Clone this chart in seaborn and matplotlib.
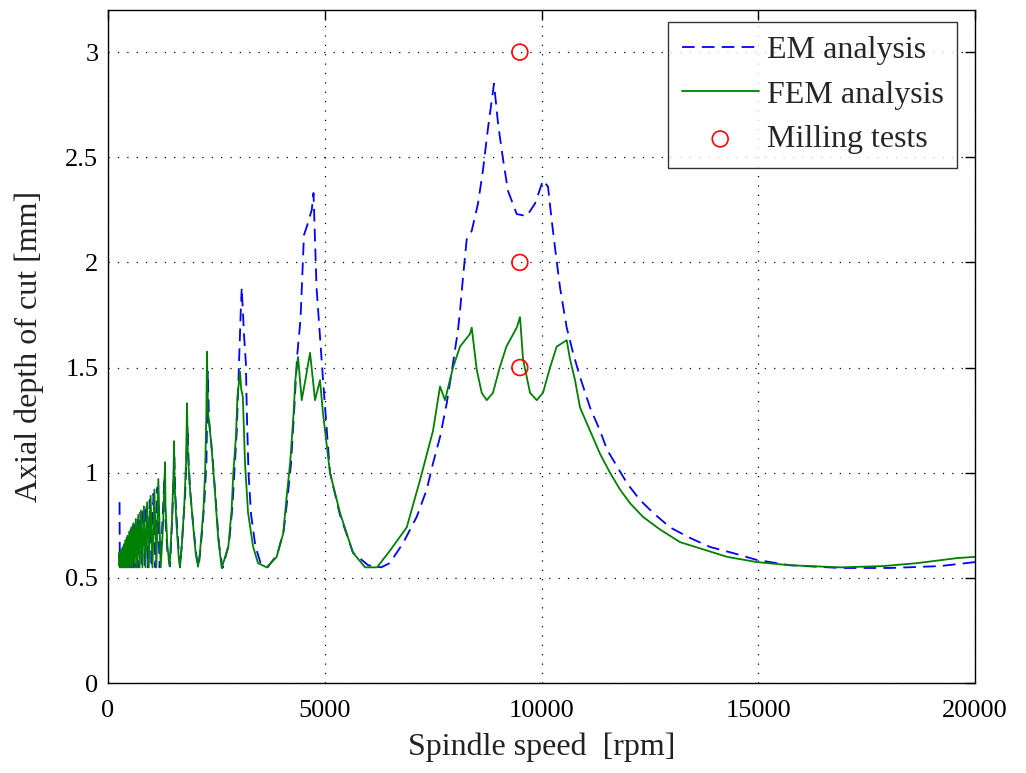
import numpy as np
import pandas as pd
import matplotlib
matplotlib.use("Agg")
import matplotlib.pyplot as plt
import seaborn as sns

# ---------------- data ----------------
fem_rpm = [250, 262, 280, 296, 312, 330, 348, 366, 385, 404, 424, 444, 466, 488, 512, 536,
           560, 585, 612, 640, 668, 698, 728, 760, 793, 828, 864, 902, 940, 982, 1025, 1070,
           1115, 1160, 1215, 1270, 1315, 1325, 1370, 1420, 1470, 1510, 1523, 1535, 1580, 1630,
           1660, 1700, 1760, 1800, 1822, 1840, 1880, 1950, 2020, 2076, 2120, 2200, 2240, 2265,
           2284, 2300, 2380, 2460, 2540, 2622, 2776, 2850, 2890, 2950, 2985, 3045, 3070, 3110,
           3160, 3230, 3345, 3460, 3660, 3890, 4040, 4120, 4200, 4280, 4320, 4383, 4468, 4560,
           4660, 4775, 4890, 4960, 5120, 5350, 5650, 5930, 6205, 6505, 6890, 7197, 7497, 7659,
           7774, 7958, 8120, 8350, 8390, 8505, 8620, 8736, 8880, 9035, 9190, 9428, 9504, 9573,
           9735, 9890, 10034, 10196, 10350, 10581, 10657, 10773, 10888, 11119, 11349, 11580,
           11811, 12041, 12341, 12734, 13195, 13656, 14279, 14971, 15732, 16886, 17878, 18662,
           19585, 20000]
fem_mm = [0.56, 0.62, 0.55, 0.63, 0.55, 0.64, 0.55, 0.66, 0.55, 0.68, 0.55, 0.70, 0.55, 0.72, 0.55, 0.74,
          0.55, 0.76, 0.55, 0.78, 0.55, 0.80, 0.55, 0.82, 0.55, 0.84, 0.55, 0.86, 0.55, 0.89, 0.55, 0.92,
          0.55, 0.97, 0.55, 0.75, 1.05, 0.85, 0.65, 0.555, 0.75, 1.00, 1.15, 0.95, 0.75, 0.60,
          0.55, 0.65, 0.85, 1.05, 1.33, 1.10, 0.95, 0.78, 0.62, 0.553, 0.62, 0.82, 1.01, 1.25,
          1.575, 1.30, 1.14, 0.93, 0.69, 0.547, 0.65, 0.82, 1.00, 1.17, 1.36, 1.48, 1.40, 1.36,
          1.045, 0.81, 0.65, 0.57, 0.55, 0.60, 0.71, 0.885, 1.045, 1.28, 1.44, 1.55, 1.345, 1.45,
          1.57, 1.345, 1.44, 1.28, 1.00, 0.81, 0.62, 0.55, 0.55, 0.63, 0.74, 0.965, 1.20, 1.41,
          1.345, 1.50, 1.60, 1.66, 1.69, 1.49, 1.38, 1.345, 1.38, 1.50, 1.60, 1.69, 1.74, 1.54,
          1.38, 1.345, 1.38, 1.50, 1.60, 1.63, 1.54, 1.44, 1.31, 1.20, 1.09, 1.00,
          0.92, 0.855, 0.79, 0.73, 0.67, 0.64, 0.60, 0.575, 0.56, 0.55, 0.556, 0.57,
          0.594, 0.60]

em_rpm = [265, 272, 290, 306, 322, 340, 358, 376, 395, 415, 435, 456, 478, 500, 524, 548,
          573, 598, 626, 654, 684, 714, 745, 777, 810, 846, 884, 922, 962, 1004, 1048, 1093,
          1140, 1190, 1245, 1300, 1320, 1370, 1430, 1480, 1530, 1550, 1600, 1660, 1710, 1780,
          1835, 1860, 1900, 1970, 2040, 2090, 2140, 2220, 2270, 2300, 2330, 2400, 2480, 2560,
          2640, 2790, 2870, 2920, 2970, 3010, 3060, 3084, 3140, 3180, 3200, 3240, 3300, 3400,
          3520, 3680, 3900, 4050, 4140, 4220, 4290, 4360, 4440, 4520, 4600, 4700, 4740, 4810,
          4890, 4960, 5120, 5350, 5650, 6000, 6300, 6500, 6805, 7120, 7352, 7497, 7659, 7813,
          7958, 8074, 8120, 8189, 8274, 8390, 8535, 8650, 8766, 8851, 8904, 8997, 9112, 9227,
          9428, 9658, 9850, 10034, 10150, 10235, 10311, 10427, 10581, 10727, 10888, 11119,
          11349, 11511, 11742, 11972, 12272, 12572, 12964, 13425, 13887, 14418, 14971, 15732,
          16886, 18039, 19193, 20000]
em_mm = [0.86, 0.55, 0.62, 0.55, 0.63, 0.55, 0.65, 0.55, 0.67, 0.55, 0.69, 0.55, 0.71, 0.55, 0.73, 0.55,
         0.75, 0.55, 0.77, 0.55, 0.79, 0.55, 0.81, 0.55, 0.83, 0.55, 0.85, 0.55, 0.87, 0.55, 0.90, 0.55,
         0.93, 0.55, 0.72, 0.98, 0.80, 0.62, 0.555, 0.78, 1.08, 0.90, 0.72, 0.55, 0.68, 0.90,
         1.22, 1.05, 0.90, 0.74, 0.60, 0.553, 0.65, 0.85, 1.05, 1.48, 1.25, 1.10, 0.88, 0.66,
         0.547, 0.66, 0.84, 1.02, 1.20, 1.45, 1.76, 1.88, 1.645, 1.52, 1.30, 1.00, 0.80, 0.65,
         0.57, 0.55, 0.61, 0.72, 0.88, 1.04, 1.28, 1.55, 1.73, 2.13, 2.18, 2.25, 2.33, 1.88,
         1.645, 1.44, 1.00, 0.80, 0.62, 0.56, 0.55, 0.57, 0.665, 0.79, 0.92, 1.045, 1.17, 1.33,
         1.52, 1.68, 1.77, 1.93, 2.11, 2.15, 2.28, 2.44, 2.64, 2.77, 2.85, 2.66, 2.49, 2.34,
         2.23, 2.22, 2.28, 2.39, 2.36, 2.20, 2.07, 1.88, 1.69, 1.57, 1.455, 1.31,
         1.20, 1.11, 1.03, 0.95, 0.87, 0.81, 0.74, 0.69, 0.647, 0.618, 0.585, 0.56,
         0.547, 0.547, 0.556, 0.575]

test_rpm = [9500, 9500, 9500]
test_mm = [1.5, 2.0, 3.0]

x_ticks = [0, 5000, 10000, 15000, 20000]
y_ticks = [0, 0.5, 1, 1.5, 2, 2.5, 3]
y_tick_labels = ["0", "0.5", "1", "1.5", "2", "2.5", "3"]

# ---------------- plotting ----------------
sns.set_theme(style="white")
plt.rcParams["font.family"] = ["Liberation Serif", "DejaVu Serif"]
plt.rcParams["font.size"] = 16

fig = plt.figure(figsize=(10.26, 7.73), dpi=100)
ax = fig.add_axes([0.1053, 0.1164, 0.8450, 0.8706])

em_df = pd.DataFrame({"rpm": em_rpm, "mm": em_mm})
fem_df = pd.DataFrame({"rpm": fem_rpm, "mm": fem_mm})
tests_df = pd.DataFrame({"rpm": test_rpm, "mm": test_mm})

sns.lineplot(data=em_df, x="rpm", y="mm", ax=ax, color=(0, 0, 1), linewidth=1.3,
             linestyle=(0, (7, 4)), estimator=None, sort=False, label="EM analysis")
sns.lineplot(data=fem_df, x="rpm", y="mm", ax=ax, color=(0, 0.5, 0), linewidth=1.3,
             estimator=None, sort=False, label="FEM analysis")
sns.scatterplot(data=tests_df, x="rpm", y="mm", ax=ax, marker="o", s=130,
                facecolor="none", edgecolor=(1, 0, 0), linewidth=1.2, label="Milling tests",
                zorder=5)

ax.set_xlim(0, 20000)
ax.set_ylim(0, 3.2)
ax.set_xticks(x_ticks)
ax.set_xticklabels([str(t) for t in x_ticks])
ax.set_yticks(y_ticks)
ax.set_yticklabels(y_tick_labels)
ax.tick_params(direction="in", length=7, width=1, top=True, right=True,
               labelsize=19, colors="black")
ax.tick_params(axis="x", pad=12)
ax.tick_params(axis="y", pad=7)
ax.grid(True, color="black", linestyle=(0, (1, 6.5)), linewidth=0.9)
for sp in ax.spines.values():
    sp.set_color("black")
    sp.set_linewidth(1.0)

ax.set_xlabel("Spindle speed  [rpm]", fontsize=23, color="#222222", labelpad=8)
ax.set_ylabel("Axial depth of cut [mm]", fontsize=23, color="#222222", labelpad=15)

leg = ax.legend(loc="upper right", bbox_to_anchor=(0.979, 0.982), borderaxespad=0,
                fontsize=23, frameon=True, fancybox=False, handlelength=2.4,
                handletextpad=0.25, labelspacing=0.48, borderpad=0.42)
leg.get_frame().set_edgecolor("black")
leg.get_frame().set_linewidth(1.0)

fig.savefig("out.png", dpi=100)
